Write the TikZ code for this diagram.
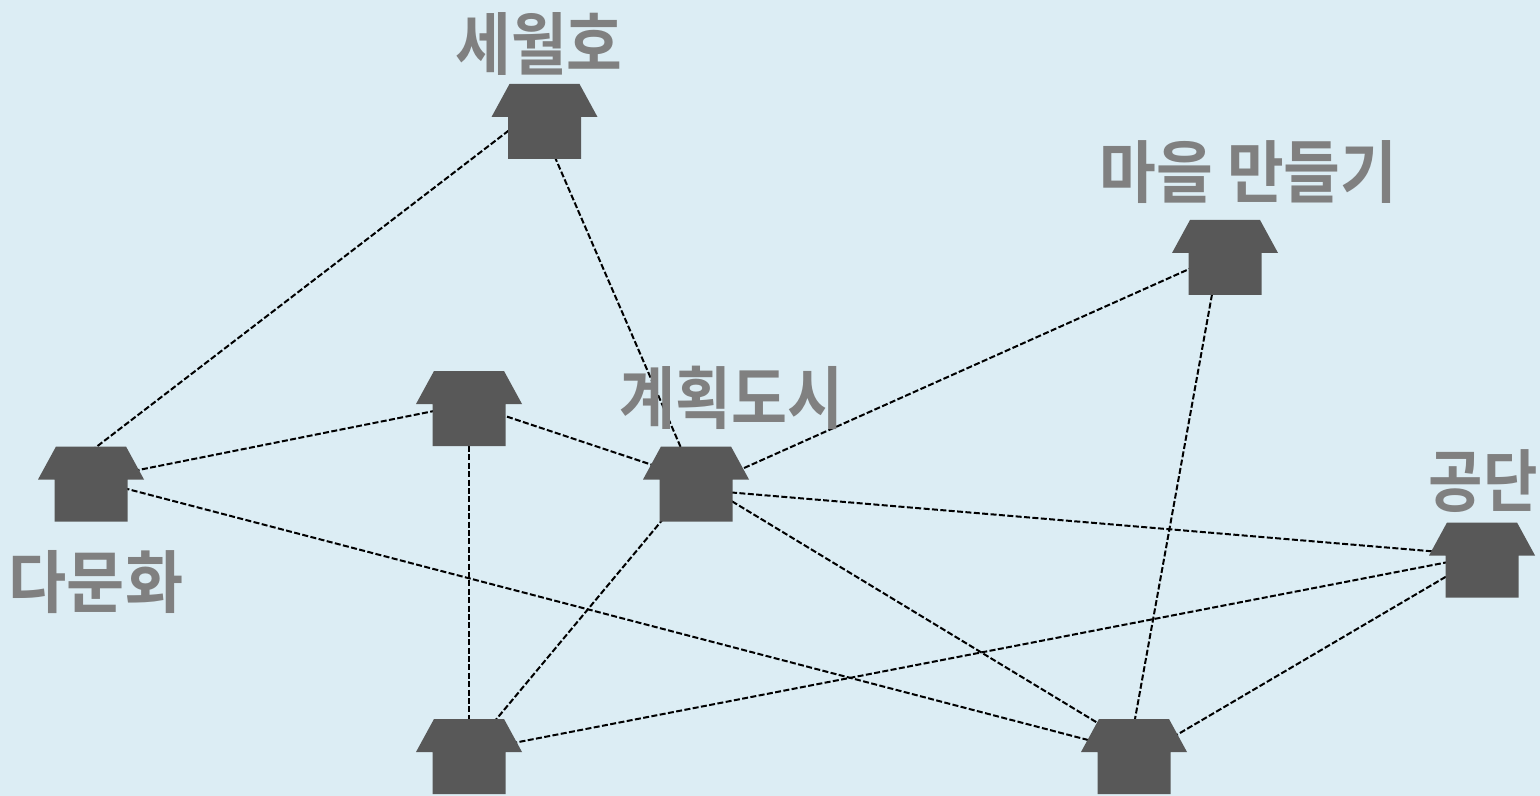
\documentclass[tikz,border=0pt]{standalone}
\usepackage{fontspec}
\newfontfamily\krfont{Noto Sans CJK KR Bold}
\definecolor{bgc}{HTML}{DCEDF4}
\definecolor{housec}{HTML}{585858}
\definecolor{labelc}{HTML}{808080}
\tikzset{
  x=0.5pt,y=-0.5pt,
  link/.style={draw=black,line width=1pt,dash pattern=on 3pt off 1.2pt},
  hpart/.style={fill=housec,draw=none},
  lab/.style={text=labelc,inner sep=0pt,font=\krfont\fontsize{34pt}{34pt}\selectfont,transform shape}
}
\newcommand{\house}[1]{%
  \fill[hpart] ([shift={(-35,-33)}]#1) -- ([shift={(35,-33)}]#1) -- ([shift={(53,0)}]#1) -- ([shift={(36.5,0)}]#1) -- ([shift={(36.5,42)}]#1) -- ([shift={(-36.5,42)}]#1) -- ([shift={(-36.5,0)}]#1) -- ([shift={(-53,0)}]#1) -- cycle;
}
\begin{document}
\begin{tikzpicture}
\useasboundingbox (0,0) rectangle (1540,796);
\fill[bgc] (0,0) rectangle (1540,796);
\coordinate (a) at (544.5,117);
\coordinate (b) at (1225,253);
\coordinate (c) at (1482,555.5);
\coordinate (d) at (696,479.5);
\coordinate (e) at (469,404);
\coordinate (f) at (91,479.5);
\coordinate (g) at (469,752);
\coordinate (h) at (1134,752);
\draw[link] ([shift={(-9,-7)}]a) -- ([shift={(2,-30)}]f);
\draw[link] ([shift={(-10,-7)}]a) -- ([shift={(0,3)}]d);
\draw[link] (b) -- ([shift={(0,10)}]d);
\draw[link] ([shift={(-5.5,0)}]b) -- ([shift={(-5,0)}]h);
\draw[link] (c) -- ([shift={(0,10)}]d);
\draw[link] (c) -- ([shift={(-2,0)}]g);
\draw[link] (c) -- ([shift={(0,8)}]h);
\draw[link] (d) -- (e);
\draw[link] (d) -- (g);
\draw[link] (d) -- ([shift={(0,-7)}]h);
\draw[link] (e) -- (f);
\draw[link] (e) -- (g);
\draw[link] (f) -- (h);
\house{a}
\house{b}
\house{c}
\house{d}
\house{e}
\house{f}
\house{g}
\house{h}
\node[lab,xscale=0.89] (la) at (539,44) {세월호};
\node[lab,xscale=0.907] (lb) at (1248.5,172) {마을 만들기};
\node[lab,xscale=0.87] (lc) at (1483,481) {공단};
\node[lab,xscale=0.895] (ld) at (731.5,398) {계획도시};
\node[lab,xscale=0.93] (lf) at (96,582) {다문화};
\end{tikzpicture}
\end{document}
